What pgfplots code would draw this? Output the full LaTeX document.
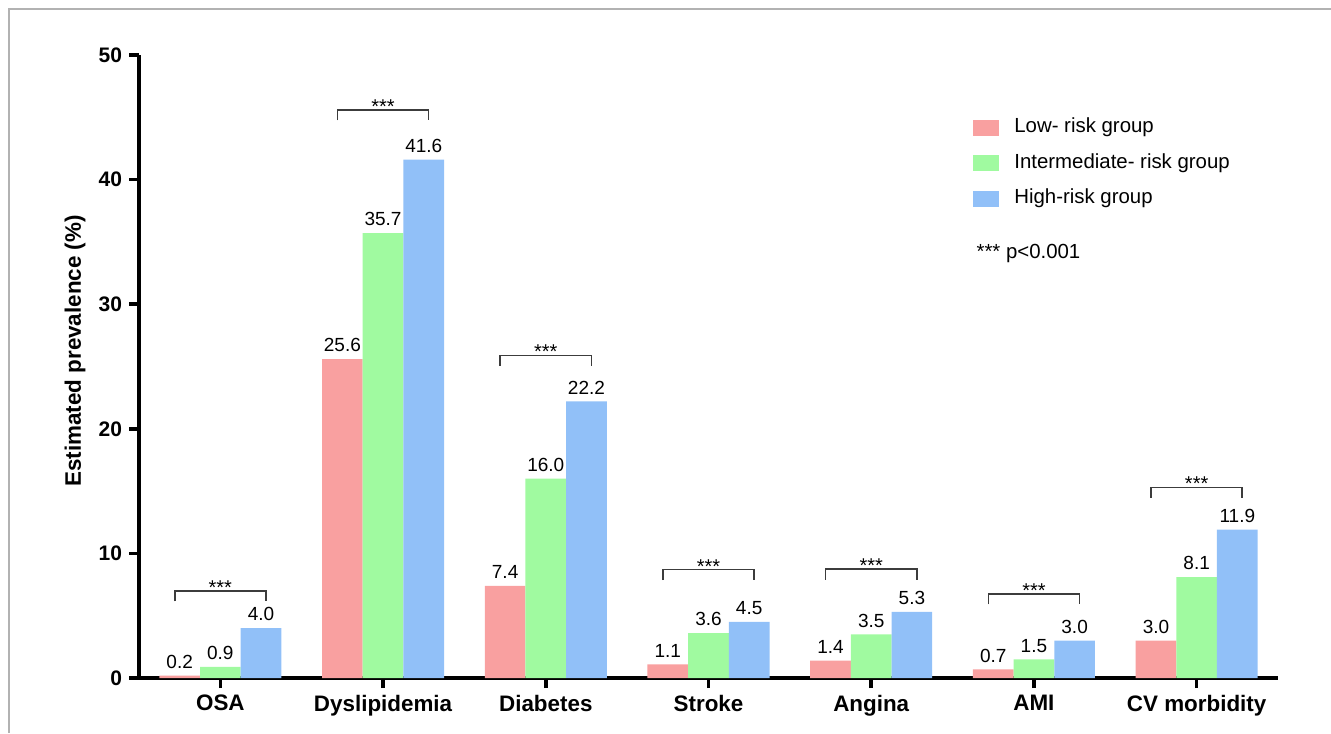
\documentclass[border=0pt]{standalone}
\usepackage{pgfplots}
\pgfplotsset{compat=1.18}
\usepackage{fontspec}
\setmainfont{Liberation Sans}
\definecolor{cLow}{RGB}{249,160,160}
\definecolor{cMid}{RGB}{160,250,160}
\definecolor{cHigh}{RGB}{145,192,248}
\definecolor{brk}{RGB}{60,60,60}
\begin{document}
\begin{tikzpicture}
\useasboundingbox (0,0) rectangle (665.5pt,366.5pt);
\draw[line width=1pt, black!30] (4.5pt,0) -- (4.5pt,362pt) -- (665.5pt,362pt);
\begin{axis}[
  at={(69.5pt,27.5pt)}, anchor=south west,
  scale only axis, width=569.5pt, height=311.5pt,
  xmin=-0.5, xmax=6.5, ymin=0, ymax=50,
  axis lines*=left,
  axis line style={line width=1.75pt, black},
  ytick={0,10,20,30,40,50},
  xtick={0,1,2,3,4,5,6},
  xticklabels={OSA,Dyslipidemia,Diabetes,Stroke,Angina,AMI,CV morbidity},
  tick align=outside, major tick length=5pt,
  tick style={line width=1.75pt, black},
  /pgf/number format/assume math mode=true,
  yticklabel style={font=\bfseries\fontsize{10.5}{12}\selectfont},
  xticklabel style={font=\bfseries\fontsize{11.2}{13}\selectfont},
  ylabel={Estimated prevalence (\%)},
  ylabel style={font=\bfseries\fontsize{11.2}{13}\selectfont, at={(axis description cs:-0.0562,0.525)}, anchor=center},
  ybar, bar width=0.25,
  nodes near coords={\pgfmathprintnumber[fixed,fixed zerofill,precision=1]{\pgfplotspointmeta}},
  nodes near coords style={font=\fontsize{9.5}{11}\selectfont, black},
  legend image code/.code={\fill[#1] (0pt,-4pt) rectangle (13pt,4pt);},
  legend style={at={(axis description cs:0.7322,0.903)}, anchor=north west, draw=none, fill=none,
    inner sep=0pt, row sep=6.05pt, column sep=6.5pt,
    nodes={inner sep=1pt, text height=7.5pt, text depth=2.2pt, font=\fontsize{10.2}{12}\selectfont}},
  legend cell align=left,
  clip=false,
]
\addplot[fill=cLow, draw=none, bar shift=-0.25] coordinates {(0,0.2) (1,25.6) (2,7.4) (3,1.1) (4,1.4) (5,0.7) (6,3.0)};
\addlegendentry{Low- risk group}
\addplot[fill=cMid, draw=none, bar shift=0] coordinates {(0,0.9) (1,35.7) (2,16.0) (3,3.6) (4,3.5) (5,1.5) (6,8.1)};
\addlegendentry{Intermediate- risk group}
\addplot[fill=cHigh, draw=none, bar shift=0.25] coordinates {(0,4.0) (1,41.6) (2,22.2) (3,4.5) (4,5.3) (5,3.0) (6,11.9)};
\addlegendentry{High-risk group}
% significance brackets
\draw[brk, line width=0.75pt] (axis cs:-0.28,6.15) |- (axis cs:0.28,7.0) -- (axis cs:0.28,6.15);
\node[anchor=base, yshift=-1.8pt, font=\fontsize{10}{12}\selectfont, inner sep=0pt] at (axis cs:0,7.0) {***};
\draw[brk, line width=0.75pt] (axis cs:0.72,44.75) |- (axis cs:1.28,45.6) -- (axis cs:1.28,44.75);
\node[anchor=base, yshift=-1.8pt, font=\fontsize{10}{12}\selectfont, inner sep=0pt] at (axis cs:1,45.6) {***};
\draw[brk, line width=0.75pt] (axis cs:1.72,25.05) |- (axis cs:2.28,25.9) -- (axis cs:2.28,25.05);
\node[anchor=base, yshift=-1.8pt, font=\fontsize{10}{12}\selectfont, inner sep=0pt] at (axis cs:2,25.9) {***};
\draw[brk, line width=0.75pt] (axis cs:2.72,7.85) |- (axis cs:3.28,8.7) -- (axis cs:3.28,7.85);
\node[anchor=base, yshift=-1.8pt, font=\fontsize{10}{12}\selectfont, inner sep=0pt] at (axis cs:3,8.7) {***};
\draw[brk, line width=0.75pt] (axis cs:3.72,7.9) |- (axis cs:4.28,8.75) -- (axis cs:4.28,7.9);
\node[anchor=base, yshift=-1.8pt, font=\fontsize{10}{12}\selectfont, inner sep=0pt] at (axis cs:4,8.75) {***};
\draw[brk, line width=0.75pt] (axis cs:4.72,5.9) |- (axis cs:5.28,6.75) -- (axis cs:5.28,5.9);
\node[anchor=base, yshift=-1.8pt, font=\fontsize{10}{12}\selectfont, inner sep=0pt] at (axis cs:5,6.75) {***};
\draw[brk, line width=0.75pt] (axis cs:5.72,14.45) |- (axis cs:6.28,15.3) -- (axis cs:6.28,14.45);
\node[anchor=base, yshift=-1.8pt, font=\fontsize{10}{12}\selectfont, inner sep=0pt] at (axis cs:6,15.3) {***};
\node[anchor=west, inner sep=0pt, font=\fontsize{10.2}{12}\selectfont] at (axis description cs:0.735,0.682) {*** p<0.001};
\end{axis}
\end{tikzpicture}
\end{document}
